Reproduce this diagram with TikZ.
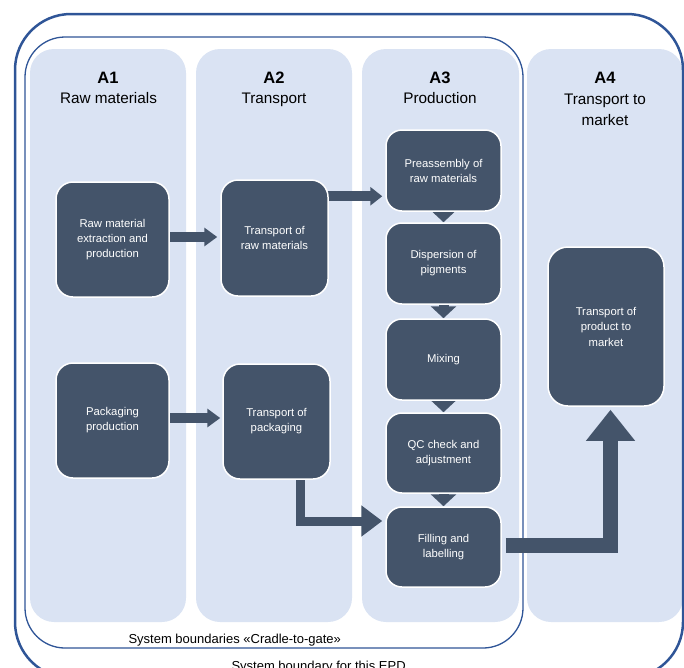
\documentclass[tikz,border=0pt]{standalone}
\usepackage{fontspec}
\setmainfont{Liberation Sans}
\usetikzlibrary{arrows.meta,calc,backgrounds}
\definecolor{colfill}{RGB}{218,227,243}
\definecolor{boxfill}{RGB}{68,84,106}
\definecolor{bline}{RGB}{47,85,151}
\tikzset{
  stage/.style={fill=colfill, draw=none, rounded corners=24pt},
  procbox/.style={fill=boxfill, draw=white, line width=1.5pt, rounded corners=16pt,
    text=white, align=center, font=\fontsize{11.3}{15}\selectfont, inner sep=0pt,
    minimum width=115pt},
  hdr/.style={anchor=base, font=\bfseries\fontsize{16.5}{20}\selectfont},
  sub/.style={anchor=base, font=\fontsize{15.3}{20}\selectfont},
  lbl/.style={anchor=base west, font=\fontsize{13}{16}\selectfont},
  flow/.style={draw=boxfill, line width=10pt, -{Triangle[width=18pt,length=13pt]}},
  downflow/.style={draw=boxfill, line width=10pt, -{Triangle[width=25pt,length=12pt]}},
}
\begin{document}
\begin{tikzpicture}[x=1pt,y=-1pt]
\useasboundingbox (0,0) rectangle (684,667);
\begin{scope}[on background layer]
  % stage columns
  \fill[stage] (30,49) rectangle (186,622);
  \fill[stage] (196,49) rectangle (352,622);
  \fill[stage] (362,49) rectangle (519,622);
  \fill[stage] (527,49) rectangle (683,622);
  % system boundaries
  \draw[bline, line width=2.5pt, rounded corners=56pt] (15,14) rectangle (683,678);
  \draw[bline, line width=1.3pt, rounded corners=40pt] (25,37) rectangle (523,648);
\end{scope}

% headers
\node[hdr] (a1t) at (108,83) {A1};
\node[sub] (a1s) at (108.5,103.5) {Raw materials};
\node[hdr] (a2t) at (274,83) {A2};
\node[sub] (a2s) at (274,103.5) {Transport};
\node[hdr] (a3t) at (440,83) {A3};
\node[sub] (a3s) at (440,103.5) {Production};
\node[hdr] (a4t) at (605,83) {A4};
\node[sub] (a4s) at (605,104) {Transport to};
\node[sub] (a4s2) at (605,125) {market};

% process boxes
\node[procbox, minimum width=113pt, minimum height=115pt, rounded corners=17pt] (rawprod) at (112.5,239.5) {Raw material\\extraction and\\production};
\node[procbox, minimum width=107pt, minimum height=116pt, rounded corners=17pt] (trraw) at (274.5,238) {Transport of\\raw materials};
\node[procbox, minimum width=113pt, minimum height=115pt, rounded corners=17pt] (packprod) at (112.5,420.5) {Packaging\\production};
\node[procbox, minimum width=107pt, minimum height=115pt, rounded corners=17pt] (trpack) at (276.5,421.5) {Transport of\\packaging};
\node[procbox, minimum height=81pt] (preas) at (443.5,170.5) {Preassembly of\\raw materials};
\node[procbox, minimum height=81pt] (disp) at (443.5,263.5) {Dispersion of\\pigments};
\node[procbox, minimum height=81pt] (mix) at (443.5,359.5) {Mixing};
\node[procbox, minimum height=80pt] (qc) at (443.5,453) {QC check and\\adjustment};
\node[procbox, minimum height=80pt] (filling) at (443.5,547) {Filling and\\labelling};
\node[procbox, minimum width=116pt, minimum height=159pt, rounded corners=20pt, font=\fontsize{11.3}{15.5}\selectfont] (trmkt) at (606,326.5) {Transport of\\product to\\market};

% boundary labels
\node[lbl] (cradle) at (125,643) {System boundaries «Cradle-to-gate»};
\node[lbl] (epd) at (228,670.5) {System boundary for this EPD};

% connector anchors
\coordinate (s1) at ($(rawprod.center)+(0,-2.5)$);
\coordinate (s2) at ($(packprod.center)+(0,-2.5)$);
\coordinate (s3) at ($(trraw.north)+(0,17)$);
\coordinate (s4) at ($(trpack.center)+(23.5,0)$);
\coordinate (e4) at ($(filling.west)+(0,-26)$);
\coordinate (s5) at ($(filling.east)+(4,-1.5)$);
\coordinate (e5) at ($(trmkt.south)+(4.5,0)$);

% connectors
\begin{scope}[on background layer]
  \draw[flow, shorten >=3pt] (s1) -- (s1 -| trraw.west);
  \draw[flow, shorten >=2pt] (s2) -- (s2 -| trpack.west);
  \draw[flow, -{Triangle[width=18pt,length=12pt]}, shorten >=3pt] (s3) -- (s3 -| preas.west);
  \draw[draw=boxfill, line width=9pt, -{Triangle[width=30pt,length=21pt]}, shorten >=3pt] (s4) |- (e4);
  \draw[draw=boxfill, line width=15pt, -{Triangle[width=47pt,length=31pt]}, shorten >=3pt] (s5) -| (e5);
  \draw[downflow] (preas.center) -- (disp.north);
  \draw[downflow] (disp.center) -- (mix.north);
  \draw[downflow] (mix.center) -- (qc.north);
  \draw[downflow] (qc.center) -- (filling.north);
\end{scope}
\end{tikzpicture}
\end{document}
